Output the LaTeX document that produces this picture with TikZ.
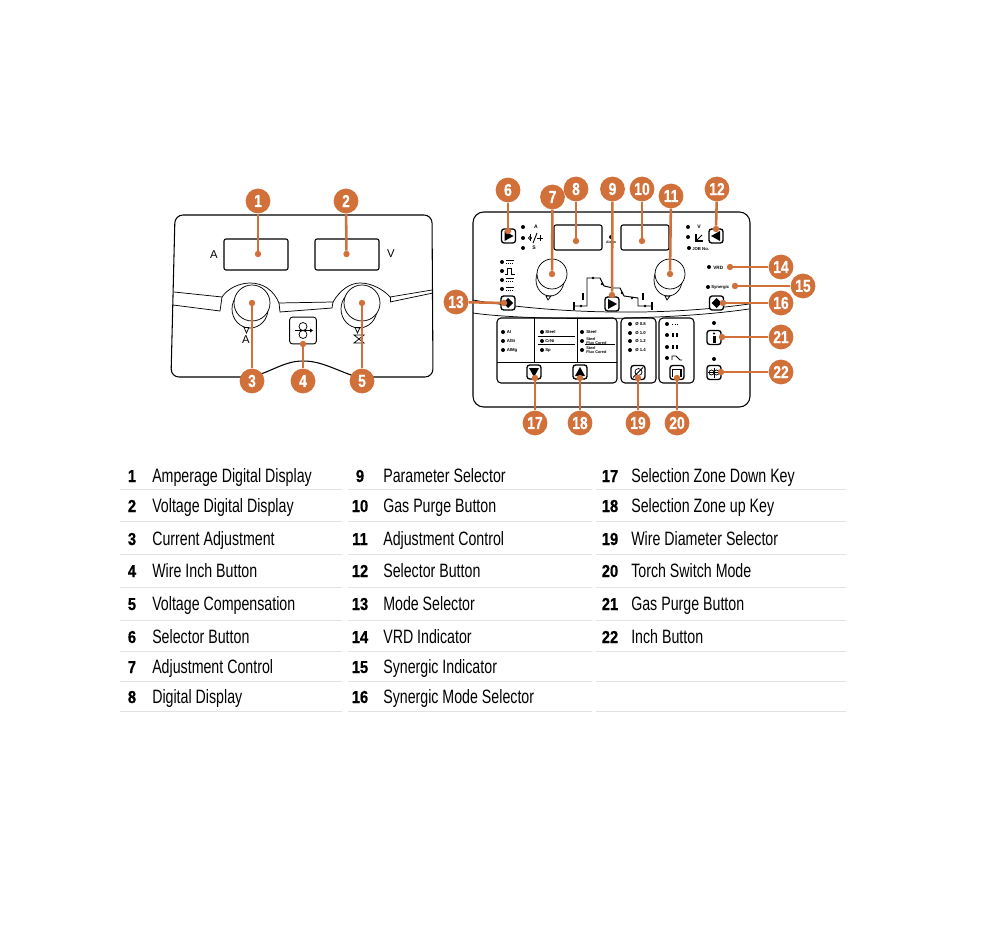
\documentclass[tikz,border=0pt]{standalone}
\usepackage{fontspec}
\setmainfont{Liberation Sans}
\newfontfamily\condfont[FakeStretch=0.735]{Liberation Sans}
\newfontfamily\numfont[FakeStretch=0.85,FakeBold=0.6]{Liberation Sans Bold}
\newfontfamily\callfont[FakeStretch=0.8,FakeBold=0.6]{Liberation Sans Bold}
\newfontfamily\tinyfont{Liberation Sans Bold}
\definecolor{weldorange}{HTML}{D2703A}
\definecolor{rulegray}{HTML}{E2E2E2}
\tikzset{
  callout/.style={circle,fill=weldorange,text=white,inner sep=0pt,minimum size=18.6pt,font=\callfont\fontsize{13}{13}\selectfont},
  tipdot/.style={circle,fill=weldorange,inner sep=0pt,minimum size=4.8pt},
  lead/.style={draw=weldorange,line width=1.9pt},
  outline/.style={draw=black,line width=0.8pt},
  thinline/.style={draw=black,line width=0.55pt},
  screen/.style={draw=black,line width=0.8pt,rounded corners=1.5pt},
  keybox/.style={draw=black,fill=white,line width=1pt,rounded corners=2pt,inner sep=0pt,minimum width=10.5pt,minimum height=10.5pt},
  ldot/.style={circle,fill=black,inner sep=0pt,minimum size=3pt},
  smalltext/.style={inner sep=0pt,anchor=west,font=\tinyfont\fontsize{3.2}{3.2}\selectfont},
  rowtext/.style={inner sep=0pt,anchor=base west,font=\condfont\fontsize{14.5}{14.5}\selectfont},
  rownum/.style={inner sep=0pt,anchor=base,font=\numfont\fontsize{13}{13}\selectfont},
  panellabel/.style={inner sep=0pt,font=\fontsize{8.5}{8.5}\selectfont},
}
\begin{document}
\begin{tikzpicture}[x=0.75pt,y=-0.75pt]
\useasboundingbox (0,0) rectangle (1005,930);
\fill[white] (0,0) rectangle (1005,930);

% ---------- left panel
\draw[outline,rounded corners=6pt] (252,377) -- (171,377) -- (175,215) -- (432,215) -- (433,377) -- (357,377);
\draw[outline] (252,377) .. controls (275,370) and (285,361) .. (303,361) .. controls (322,361) and (335,370) .. (357,377);
\draw[screen] (224,239) rectangle (288,270);
\draw[screen] (315,239) rectangle (379,270);
\node[panellabel] (la) at (214,255) {A};
\node[panellabel] (lv) at (391,254) {V};
% band
\draw[thinline] (174,292) -- (222,297) .. controls (228,288) and (240,283) .. (250,283) .. controls (264,283) and (274,291) .. (279,303) -- (333,302) .. controls (340,290) and (350,283) .. (360,283) .. controls (372,283) and (384,290) .. (390,297) -- (432,290);
\draw[thinline] (173,305) -- (220,311) -- (222,297);
\draw[thinline] (279,303) -- (280,312) -- (332,308) -- (333,302);
\draw[thinline] (390,302) -- (433,293);
\draw[thinline] (390,297) -- (390,302);
% knobs
\draw[thinline,fill=white] (250,309) ellipse [x radius=18,y radius=19];
\draw[thinline,fill=white] (252,303) circle [radius=18];
\draw[thinline,fill=white] (359,309) ellipse [x radius=18,y radius=19];
\draw[thinline,fill=white] (362,303) circle [radius=18];
\draw[thinline] (244,327.5) -- (249,327.5) -- (246.5,333) -- cycle;
\draw[thinline] (355,327.5) -- (360,327.5) -- (357.5,333) -- cycle;
\node[panellabel] (lk) at (246,340) {A};
\draw[thinline] (354,335) -- (364,335) -- (354,343) -- (364,343) -- cycle;
% wire inch
\node[keybox,line width=0.7pt,minimum width=20pt,minimum height=20pt] (b4) at (303,330.5) {};
\begin{scope}[shift={(b4.center)}]
\draw[thinline] (0,-4) circle [radius=4];
\draw[thinline] (0,4) circle [radius=4];
\draw[thinline] (-8,0) -- (7,0);
\fill (7,-2) -- (10,0) -- (7,2) -- cycle;
\end{scope}

% ---------- right panel
\draw[outline,rounded corners=8pt] (473,212) rectangle (750,407);
\draw[thinline] (473,300) .. controls (540,312) and (650,318) .. (749,304);
\draw[thinline] (473,313) .. controls (520,320) and (660,322) .. (749,309);
\draw[screen] (554,225) rectangle (602,250);
\draw[screen] (621,225) rectangle (669,250);
\draw[thinline,fill=white] (550,280) ellipse [x radius=14,y radius=16];
\draw[thinline,fill=white] (552,274) circle [radius=15];
\draw[thinline,fill=white] (668,280) ellipse [x radius=14,y radius=16];
\draw[thinline,fill=white] (670,274) circle [radius=15];
\draw[thinline] (546,296) -- (551,296) -- (548,300) -- cycle;
\draw[thinline] (665,296) -- (670,296) -- (667,300) -- cycle;

% keys
\node[keybox] (b6) at (508.5,236) {};
\fill[shift={(b6.center)}] (-4,-5) -- (5,0) -- (-4,5) -- cycle;
\node[keybox] (b13) at (508,303) {};
\fill[shift={(b13.center)}] (-5,0) -- (0,-5) -- (5,0) -- (0,5) -- cycle;
\node[keybox] (b9) at (612,304) {};
\fill[shift={(b9.center)}] (-4,-5) -- (5,0) -- (-4,5) -- cycle;
\node[keybox] (b12) at (716,236) {};
\fill[shift={(b12.center)}] (4,-5) -- (-5,0) -- (4,5) -- cycle;
\node[keybox] (b16) at (716.5,303) {};
\fill[shift={(b16.center)}] (-5,0) -- (0,-5) -- (5,0) -- (0,5) -- cycle;

% selection boxes
\draw[screen,rounded corners=3pt] (497,318) rectangle (617,383);
\draw[thinline] (497,362) -- (617,362);
\draw[thinline] (534,318) -- (534,362);
\draw[thinline] (577,318) -- (577,362);
\draw[thinline,line width=0.7pt] (538,336) -- (575,336);
\draw[thinline,line width=0.7pt] (538,344) -- (575,344);
\draw[thinline,line width=0.7pt] (585,344.5) -- (615,344.5);
\draw[screen,rounded corners=3pt] (621,318) rectangle (656,383);
\draw[screen,rounded corners=3pt] (659,318) rectangle (694,383);
\node[keybox] (b17) at (534,372) {};
\fill[shift={(b17.center)}] (-5,-4) -- (5,-4) -- (0,5) -- cycle;
\node[keybox] (b18) at (580,372) {};
\fill[shift={(b18.center)}] (-5,4) -- (5,4) -- (0,-5) -- cycle;
\node[keybox] (b19) at (638,372.5) {};
\begin{scope}[shift={(b19.center)}]
\draw[thinline] (0.5,-0.5) circle [radius=3.5];
\draw[thinline] (-5,5) -- (5,-5);
\end{scope}
\node[keybox] (b20) at (677,372.5) {};
\draw[thinline,line width=0.8pt,shift={(b20.center)}] (-4.5,4) -- (-4.5,-3) -- (4,-3) -- (4,4);
\node[keybox] (b21) at (714,337.5) {};
\fill[shift={(b21.center)}] (-1.5,-2) rectangle (1.5,5);
\fill[shift={(b21.center)}] (0,-4) circle [radius=1.1];
\node[keybox] (b22) at (714,372.5) {};
\begin{scope}[shift={(b22.center)}]
\draw[thinline] (-2.5,0) circle [radius=2.5];
\draw[thinline] (2.5,0) circle [radius=2.5];
\draw[thinline] (-6,0) -- (6,0);
\draw[thinline] (0,-5) -- (0,5);
\end{scope}

% indicator dots
\foreach \i/\x/\y in {1/523/227,2/523/238,3/523/248,4/502/262,5/502/271,6/502/280,7/502/289,8/611/237,9/688/227,10/688/237,11/689/248,12/709/267,13/708/287,14/503/332,15/503/341,16/503/350,17/542/332,18/542/341,19/542/350,20/582/332,21/582/341,22/582/350,23/630/324,24/630/333,25/630/341,26/630/350,27/667/324,28/667/335,29/667/347,30/667/358,31/714/323,32/714/359}
  \node[ldot] (dot\i) at (\x,\y) {};

% mode symbols (dashes over solid lines)
\foreach \yy in {262,280,289}{
  \draw[line width=0.45pt] (506,\yy-1.5) -- (514,\yy-1.5);
  \draw[line width=0.45pt,dash pattern=on 1pt off 0.5pt] (506,\yy+1) -- (514,\yy+1);
}
\draw[line width=0.7pt] (505,274) -- (507,274) -- (507,268) -- (511,268) -- (511,274) -- (515,274);

% upper left / right symbols
\node[smalltext,anchor=center,font=\tinyfont\fontsize{3.8}{3.8}\selectfont] (ta) at (536,227) {A};
\node[smalltext,anchor=center,font=\tinyfont\fontsize{3.8}{3.8}\selectfont] (ts) at (534,248) {S};
\node[smalltext,anchor=center,font=\tinyfont\fontsize{3.8}{3.8}\selectfont] (tv) at (699,227) {V};
\draw[line width=0.5pt] (530,238) circle [radius=1.7];
\draw[line width=0.5pt] (530,234.5) -- (530,241.5);
\draw[line width=0.7pt] (533,243) -- (537,233);
\draw[line width=0.7pt] (537,238) -- (543,238);
\draw[line width=0.7pt] (540,235) -- (540,241);
\draw[line width=0.8pt] (696,234) -- (696,241) -- (703,241);
\draw[line width=0.6pt] (696,241) -- (702,235);
\node[smalltext] (tj) at (692,249) {JOB No.};
\node[smalltext,anchor=center,font=\tinyfont\fontsize{2.6}{2.6}\selectfont] (tal) at (611,242) {Alarm};
\node[smalltext,font=\tinyfont\fontsize{3.5}{3.5}\selectfont] (tvrd) at (713,268) {VRD};
\node[smalltext] (tsy) at (711,287) {Synergic};

% material labels
\node[smalltext] (m1) at (506.5,332) {Al};
\node[smalltext] (m2) at (506.5,341) {AlSi};
\node[smalltext] (m3) at (506.5,350) {AlMg};
\node[smalltext] (m4) at (545,332) {Steel};
\node[smalltext] (m5) at (545,341) {CrNi};
\node[smalltext] (m6) at (545,350) {Sp};
\node[smalltext] (m7) at (586,332) {Steel};
\node[smalltext,align=left,font=\tinyfont\fontsize{2.9}{3.1}\selectfont] (m8) at (586,341) {Steel\\Flux Cored};
\node[smalltext,align=left,font=\tinyfont\fontsize{2.9}{3.1}\selectfont] (m9) at (586,350) {Steel\\Flux Cored};
\node[smalltext] (dm1) at (635,324) {Ø 0.8};
\node[smalltext] (dm2) at (635,333) {Ø 1.0};
\node[smalltext] (dm3) at (635,341) {Ø 1.2};
\node[smalltext] (dm4) at (635,350) {Ø 1.4};
% torch symbols
\draw[line width=0.6pt,dash pattern=on 1pt off 1pt] (672,324) -- (678,324);
\fill (672,333) rectangle (673.5,337);
\fill (676,333) rectangle (677.5,337);
\fill (672,345) rectangle (673.5,349);
\fill (676,345) rectangle (677.5,349);
\draw[line width=0.6pt] (672,360) -- (672,356) -- (676,356) -- (680,360) -- (682,360);

% welding sequence diagram
\draw[line width=0.7pt] (574,306) -- (587,306) -- (587,278) -- (600,278) -- (604,286) -- (613,288) -- (620,288) -- (624,296) -- (638,298) -- (638,306) -- (652,306);
\draw[line width=0.9pt] (574,302) -- (574,310);
\draw[line width=0.9pt] (652,302) -- (652,310);
\draw[line width=1.5pt] (583,293) -- (583,300);
\draw[line width=1.5pt] (643,293) -- (643,300);
\foreach \i/\x/\y in {33/581/306,34/593/278,35/602/284,36/622/293,37/632/298,38/645/306}
  \node[ldot,minimum size=2.2pt] (dot\i) at (\x,\y) {};

% ---------- callouts
\foreach \n/\cx/\cy/\ex/\ey in {1/258/201/258/254,2/346/201/346.5/254,3/252/381/252/303,4/303/381/303/344,5/362/381/362/303,6/508/190/508/231,7/552.5/197/552/274,8/576/189/576/241,9/612.5/189/612/295,10/642/189/642/241,11/671/196/670/274,12/717/189/716/229,13/456/302/504/303,14/781/267/730/267,15/803/286/735/286,16/781/303/723/303,17/535/423/535/378,18/580/423/580/378,19/638/423/638/378,20/677/423/677/378,21/781/337/722/337,22/781/372/721/372}{
  \node[callout] (c\n) at (\cx,\cy) {\n};
  \node[tipdot] (t\n) at (\ex,\ey) {};
  \draw[lead] (c\n) -- (t\n);
}

% ---------- legend
\foreach \r/\ya in {a/489,b/521,c/554,d/587,e/620,f/651,g/681,h/711}{
  \draw[rulegray,line width=0.7pt] (120,\ya) -- (342,\ya);
  \draw[rulegray,line width=0.7pt] (348,\ya) -- (592,\ya);
  \draw[rulegray,line width=0.7pt] (596,\ya) -- (846,\ya);
}
\foreach \n/\xn/\xt/\y/\t in {
1/132/152/482/Amperage Digital Display,
2/132/152/512/Voltage Digital Display,
3/132/152/545/Current Adjustment,
4/132/152/577/Wire Inch Button,
5/132/152/610/Voltage Compensation,
6/132/152/643/Selector Button,
7/132/152/673/Adjustment Control,
8/132/152/703/Digital Display,
9/360/383/482/Parameter Selector,
10/360/383/512/Gas Purge Button,
11/360/383/545/Adjustment Control,
12/360/383/577/Selector Button,
13/360/383/610/Mode Selector,
14/360/383/643/VRD Indicator,
15/360/383/673/Synergic Indicator,
16/360/383/703/Synergic Mode Selector,
17/610/631/482/Selection Zone Down Key,
18/610/631/512/Selection Zone up Key,
19/610/631/545/Wire Diameter Selector,
20/610/631/577/Torch Switch Mode,
21/610/631/610/Gas Purge Button,
22/610/631/643/Inch Button}{
  \node[rownum] (n\n) at (\xn,\y) {\n};
  \node[rowtext] (r\n) at (\xt,\y) {\t};
}
\end{tikzpicture}
\end{document}
